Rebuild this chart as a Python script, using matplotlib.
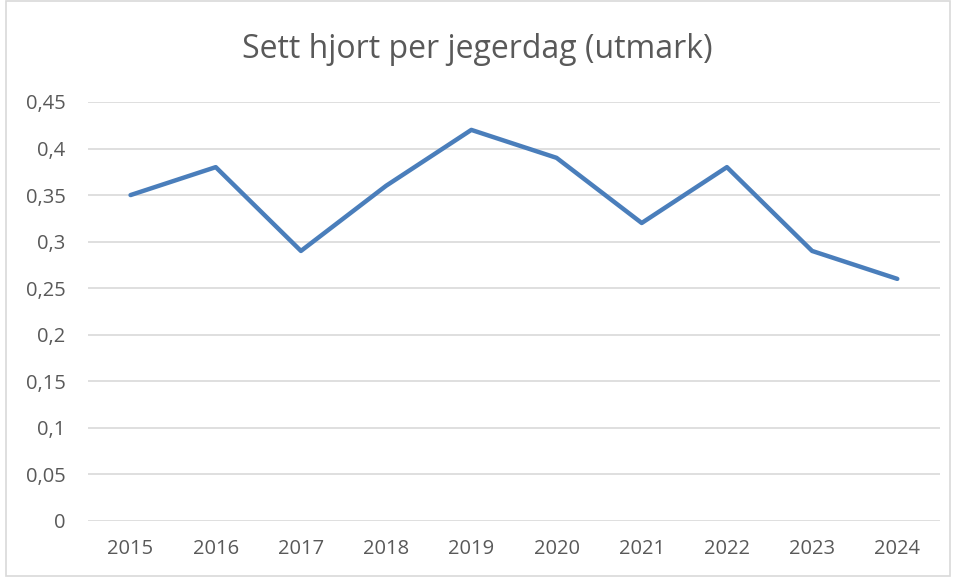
import matplotlib
matplotlib.use('Agg')
import matplotlib.pyplot as plt
from matplotlib.patches import Rectangle

plt.rcParams['font.family'] = ['Open Sans', 'DejaVu Sans']

years = ['2015', '2016', '2017', '2018', '2019', '2020', '2021', '2022', '2023', '2024']
sett_hjort = [0.35, 0.38, 0.29, 0.36, 0.42, 0.39, 0.32, 0.38, 0.29, 0.26]
yticks = [0, 0.05, 0.1, 0.15, 0.2, 0.25, 0.3, 0.35, 0.4, 0.45]
ytick_labels = ['0', '0,05', '0,1', '0,15', '0,2', '0,25', '0,3', '0,35', '0,4', '0,45']

GRID = '#d9d9d9'
TXT = '#595959'

fig = plt.figure(figsize=(9.54, 5.77), dpi=100)
ax = fig.add_axes([0.0922, 0.0971, 0.893, 0.7262])

x = list(range(len(years)))
ax.plot(x, sett_hjort, color='#4a7ebb', lw=3.2, solid_joinstyle='round', solid_capstyle='round', zorder=3)

ax.set_xlim(-0.5, len(years) - 0.5)
ax.set_ylim(0, 0.45)
ax.set_yticks(yticks)
ax.set_yticklabels(ytick_labels)
ax.set_xticks(x)
ax.set_xticklabels(years)
ax.grid(axis='y', color=GRID, lw=1.2)
ax.set_axisbelow(True)
for s in ax.spines.values():
    s.set_visible(False)
ax.tick_params(length=0, labelsize=14.5, colors=TXT)
ax.tick_params(axis='y', pad=16)
ax.tick_params(axis='x', pad=13)

fig.text(0.5, 0.915, 'Sett hjort per jegerdag (utmark)', ha='center', va='center',
         fontsize=23, color=TXT)

fig.patches.append(Rectangle((0.006, 0.002), 0.99, 0.996, transform=fig.transFigure,
                             fill=False, ec=GRID, lw=1.2))

fig.savefig('out.png', dpi=100, facecolor='white')
